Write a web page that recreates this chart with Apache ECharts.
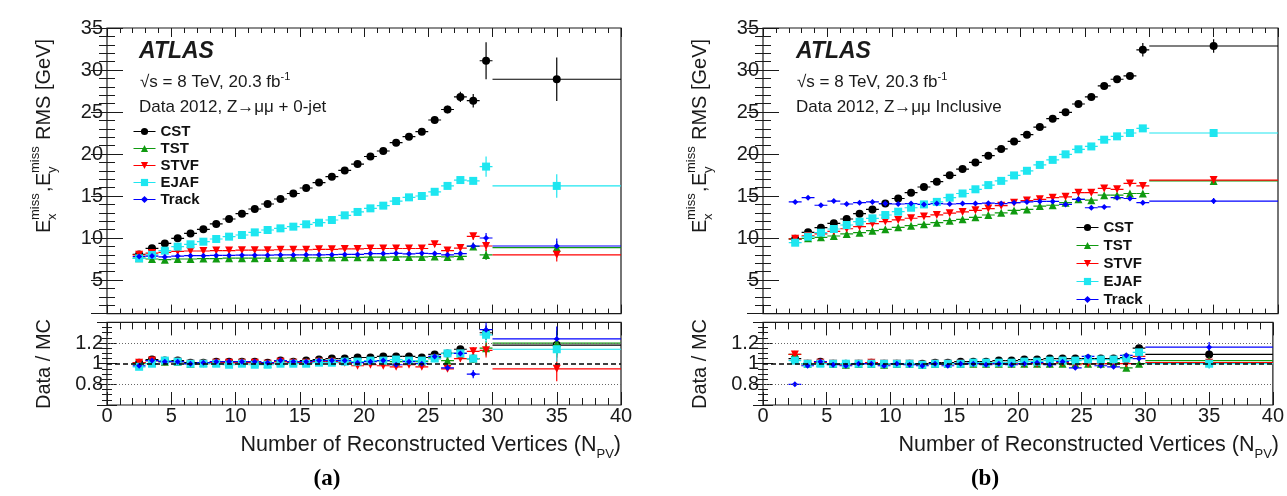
<!DOCTYPE html>
<html>
<head>
<meta charset="utf-8">
<title>MET RMS vs NPV</title>
<script src="https://cdn.jsdelivr.net/npm/echarts@6.0.0/dist/echarts.min.js"></script>
<style>
  html, body { margin: 0; padding: 0; background: #fff; }
  #chart { width: 1287px; height: 496px; }
</style>
</head>
<body>
<div id="chart"></div>
<script>
// N_PV bins, the last one is the wide 30-40 bin
const binCenters = [2.5, 3.5, 4.5, 5.5, 6.5, 7.5, 8.5, 9.5, 10.5, 11.5, 12.5, 13.5, 14.5, 15.5, 16.5, 17.5, 18.5, 19.5, 20.5, 21.5, 22.5, 23.5, 24.5, 25.5, 26.5, 27.5, 28.5, 29.5, 35];
const binHalfWidths = [0.5, 0.5, 0.5, 0.5, 0.5, 0.5, 0.5, 0.5, 0.5, 0.5, 0.5, 0.5, 0.5, 0.5, 0.5, 0.5, 0.5, 0.5, 0.5, 0.5, 0.5, 0.5, 0.5, 0.5, 0.5, 0.5, 0.5, 0.5, 5];
const seriesNames = ['CST', 'TST', 'STVF', 'EJAF', 'Track'];

// (a) Z->mumu + 0-jet, RMS [GeV]
const cstA   = [8.05, 8.77, 9.36, 9.96, 10.55, 11.03, 11.67, 12.26, 12.9, 13.45, 14.05, 14.64, 15.3, 15.95, 16.6, 17.3, 18.05, 18.8, 19.7, 20.36, 21.35, 22.06, 22.66, 24.05, 25.3, 26.8, 26.35, 31.1, 28.9];
const tstA   = [7.6, 7.5, 7.42, 7.5, 7.5, 7.55, 7.55, 7.6, 7.6, 7.6, 7.62, 7.62, 7.65, 7.65, 7.65, 7.68, 7.7, 7.7, 7.72, 7.72, 7.75, 7.75, 7.75, 7.8, 7.75, 7.82, 9.0, 7.98, 8.85];
const stvfA  = [8.0, 8.2, 8.3, 8.4, 8.45, 8.45, 8.5, 8.5, 8.55, 8.55, 8.55, 8.6, 8.6, 8.6, 8.65, 8.65, 8.7, 8.7, 8.75, 8.75, 8.75, 8.75, 8.75, 9.25, 8.5, 8.8, 10.2, 9.05, 8.0];
const ejafA  = [7.58, 7.98, 8.49, 8.97, 9.25, 9.56, 9.88, 10.16, 10.36, 10.67, 10.95, 11.15, 11.35, 11.63, 11.82, 12.14, 12.7, 13.1, 13.53, 13.85, 14.4, 14.84, 15.0, 15.5, 16.2, 16.9, 16.8, 18.5, 16.2];
const trackA = [7.8, 7.85, 7.75, 7.85, 7.9, 7.9, 7.92, 7.92, 7.95, 7.95, 7.95, 7.98, 7.98, 8.0, 8.0, 8.02, 8.05, 8.05, 8.15, 8.15, 8.17, 8.12, 8.17, 8.15, 8.0, 8.15, 9.05, 10.0, 9.05];
const cstErrA   = [0.1, 0.1, 0.1, 0.1, 0.1, 0.1, 0.1, 0.1, 0.1, 0.12, 0.12, 0.12, 0.14, 0.14, 0.15, 0.16, 0.18, 0.2, 0.22, 0.25, 0.28, 0.3, 0.35, 0.4, 0.45, 0.6, 0.8, 2.2, 2.6];
const ejafErrA  = [0.1, 0.1, 0.1, 0.1, 0.1, 0.1, 0.1, 0.1, 0.1, 0.1, 0.1, 0.1, 0.1, 0.12, 0.12, 0.12, 0.14, 0.15, 0.16, 0.18, 0.2, 0.22, 0.25, 0.28, 0.3, 0.35, 0.4, 1.2, 1.4];
const lowErrA   = [0.2, 0.2, 0.2, 0.2, 0.2, 0.2, 0.2, 0.2, 0.2, 0.2, 0.2, 0.2, 0.2, 0.2, 0.2, 0.2, 0.2, 0.2, 0.2, 0.2, 0.22, 0.22, 0.22, 0.25, 0.25, 0.3, 0.4, 0.6, 0.8];
const trackErrA = [0.2, 0.2, 0.2, 0.2, 0.2, 0.2, 0.2, 0.2, 0.2, 0.2, 0.2, 0.2, 0.2, 0.2, 0.2, 0.2, 0.2, 0.2, 0.2, 0.2, 0.22, 0.22, 0.22, 0.25, 0.25, 0.3, 0.4, 0.6, 0.9];

// (b) Z->mumu inclusive, RMS [GeV]
const cstB   = [9.9, 10.67, 11.23, 11.75, 12.26, 12.9, 13.4, 14.1, 14.7, 15.4, 16.07, 16.7, 17.46, 18.2, 19.0, 19.8, 20.6, 21.5, 22.3, 23.2, 24.2, 24.96, 25.95, 26.8, 28.1, 28.9, 29.3, 32.4, 32.86];
const tstB   = [9.88, 9.96, 10.08, 10.24, 10.48, 10.63, 10.87, 11.03, 11.27, 11.47, 11.63, 11.82, 12.06, 12.22, 12.46, 12.74, 13.0, 13.28, 13.4, 13.8, 13.9, 14.2, 14.6, 14.5, 15.1, 15.1, 15.3, 15.3, 16.8];
const stvfB  = [9.9, 10.25, 10.5, 10.8, 11.1, 11.35, 11.7, 11.95, 12.15, 12.35, 12.55, 12.75, 12.95, 13.1, 13.3, 13.5, 13.85, 14.2, 14.45, 14.6, 14.8, 14.9, 15.4, 15.4, 15.9, 15.8, 16.5, 16.2, 16.9];
const ejafB  = [9.44, 10.16, 10.63, 11.07, 11.55, 11.94, 12.34, 12.74, 13.13, 13.6, 14.0, 14.3, 14.8, 15.3, 15.8, 16.3, 16.8, 17.45, 18.0, 18.7, 19.3, 19.96, 20.56, 20.9, 21.7, 22.1, 22.5, 23.05, 22.5];
const trackB = [14.3, 14.8, 13.9, 14.4, 14.05, 14.2, 14.3, 14.1, 14.05, 14.1, 14.0, 14.1, 14.05, 14.1, 14.1, 14.15, 14.1, 14.2, 14.3, 14.35, 14.35, 14.0, 14.6, 13.6, 13.7, 14.8, 14.7, 14.2, 14.4];
const cstErrB = [0.1, 0.1, 0.1, 0.1, 0.1, 0.1, 0.1, 0.1, 0.1, 0.1, 0.1, 0.1, 0.1, 0.1, 0.1, 0.1, 0.1, 0.12, 0.12, 0.12, 0.14, 0.14, 0.15, 0.16, 0.18, 0.2, 0.25, 0.8, 0.8];
const lowErrB = [0.1, 0.1, 0.1, 0.1, 0.1, 0.1, 0.1, 0.1, 0.1, 0.1, 0.1, 0.1, 0.1, 0.1, 0.1, 0.1, 0.1, 0.1, 0.1, 0.12, 0.12, 0.12, 0.14, 0.14, 0.15, 0.16, 0.18, 0.25, 0.35];

// Data / MC ratios
const cstRA   = [1.01, 1.04, 1.03, 1.03, 1.01, 1.01, 1.02, 1.02, 1.02, 1.02, 1.01, 1.03, 1.02, 1.03, 1.04, 1.05, 1.05, 1.06, 1.06, 1.07, 1.07, 1.07, 1.06, 1.09, 1.10, 1.14, 1.05, 1.30, 1.18];
const tstRA   = [1.0, 1.03, 1.02, 1.02, 1.0, 1.01, 1.01, 1.01, 1.02, 1.01, 1.0, 1.02, 1.02, 1.02, 1.03, 1.03, 1.03, 1.02, 1.03, 1.03, 1.02, 1.03, 1.02, 1.06, 1.03, 1.1, 1.05, 1.15, 1.2];
const stvfRA  = [1.01, 1.03, 1.02, 1.02, 1.0, 1.0, 1.01, 1.01, 1.01, 1.01, 1.0, 1.02, 1.01, 1.01, 1.02, 1.02, 1.01, 0.98, 0.99, 0.98, 0.97, 0.99, 0.97, 1.05, 0.95, 1.05, 1.12, 1.13, 0.95];
const ejafRA  = [0.97, 1.0, 1.03, 1.02, 1.0, 1.0, 1.0, 0.99, 1.0, 0.99, 0.99, 1.0, 1.0, 1.0, 1.01, 1.01, 1.02, 1.02, 1.03, 1.03, 1.04, 1.03, 1.03, 1.05, 1.1, 1.1, 1.05, 1.28, 1.14];
const trackRA = [0.98, 1.03, 1.02, 1.02, 1.0, 1.01, 1.02, 1.02, 1.02, 1.02, 1.01, 1.03, 1.02, 1.02, 1.03, 1.03, 1.03, 1.01, 1.02, 1.03, 0.99, 1.02, 1.0, 1.07, 0.96, 1.1, 0.9, 1.33, 1.24];
const cstRB   = [1.05, 1.0, 1.02, 1.0, 1.0, 1.0, 1.01, 1.0, 1.0, 1.0, 1.0, 1.01, 1.01, 1.02, 1.02, 1.02, 1.03, 1.03, 1.04, 1.04, 1.05, 1.05, 1.05, 1.05, 1.05, 1.05, 1.06, 1.15, 1.09];
const tstRB   = [1.09, 1.0, 1.01, 1.0, 0.99, 1.0, 1.0, 0.99, 1.0, 1.0, 0.99, 1.0, 1.0, 1.0, 1.0, 1.0, 1.0, 1.0, 1.0, 1.0, 1.0, 1.0, 1.0, 1.0, 1.0, 1.01, 0.96, 1.0, 1.03];
const stvfRB  = [1.09, 1.0, 1.01, 1.0, 0.99, 1.0, 1.01, 1.0, 1.0, 1.0, 0.99, 1.0, 1.0, 1.0, 1.0, 1.0, 1.0, 1.0, 1.0, 1.0, 1.0, 1.01, 0.99, 1.0, 1.0, 1.0, 1.0, 1.07, 1.01];
const ejafRB  = [1.03, 1.0, 1.0, 1.0, 1.0, 1.0, 1.0, 1.0, 1.0, 1.0, 0.99, 1.0, 1.0, 1.0, 1.01, 1.01, 1.01, 1.01, 1.02, 1.02, 1.03, 1.03, 1.03, 1.04, 1.04, 1.04, 1.05, 1.11, 1.0];
const trackRB = [0.8, 0.98, 1.02, 0.99, 0.98, 1.0, 1.0, 0.98, 1.0, 0.99, 0.98, 1.0, 0.98, 1.0, 1.0, 0.99, 1.0, 0.99, 1.0, 1.01, 0.99, 1.02, 0.96, 1.07, 0.98, 0.97, 1.08, 1.05, 1.16];
const ratioErrA = [0.01, 0.01, 0.01, 0.01, 0.01, 0.01, 0.01, 0.01, 0.01, 0.01, 0.01, 0.01, 0.01, 0.01, 0.01, 0.01, 0.015, 0.015, 0.015, 0.015, 0.02, 0.02, 0.02, 0.02, 0.025, 0.03, 0.04, 0.07, 0.12];
const ratioErrB = [0.01, 0.01, 0.01, 0.01, 0.01, 0.01, 0.01, 0.01, 0.01, 0.01, 0.01, 0.01, 0.01, 0.01, 0.01, 0.01, 0.01, 0.01, 0.01, 0.01, 0.01, 0.01, 0.015, 0.015, 0.015, 0.02, 0.025, 0.03, 0.05];
const ratioRefLines = [0.8, 1.0, 1.2];

const FONT = '"Liberation Sans", Arial, Helvetica, sans-serif';
const seriesStyle = {
  CST:   { color: '#000000', symbol: 'circle',   size: 8, rotate: 0 },
  TST:   { color: '#109a10', symbol: 'triangle', size: 8, rotate: 0 },
  STVF:  { color: '#ff0000', symbol: 'triangle', size: 8, rotate: 180 },
  EJAF:  { color: '#1ee6f0', symbol: 'rect',     size: 8, rotate: 0 },
  Track: { color: '#0000ff', symbol: 'diamond',  size: 6, rotate: 0 }
};

// 0 = (a) main, 1 = (a) ratio, 2 = (b) main, 3 = (b) ratio
const grids = [
  { left: 107, top: 28, width: 514, height: 285.6 },
  { left: 107, top: 322.4, width: 514, height: 82.6 },
  { left: 763, top: 28, width: 515, height: 285.6 },
  { left: 763, top: 322.4, width: 515, height: 82.6 }
];
const panels = [
  { grid: 0, values: [cstA, tstA, stvfA, ejafA, trackA], errors: [cstErrA, lowErrA, lowErrA, ejafErrA, trackErrA] },
  { grid: 1, values: [cstRA, tstRA, stvfRA, ejafRA, trackRA], errors: [ratioErrA, ratioErrA, ratioErrA, ratioErrA, ratioErrA] },
  { grid: 2, values: [cstB, tstB, stvfB, ejafB, trackB], errors: [cstErrB, lowErrB, lowErrB, lowErrB, lowErrB] },
  { grid: 3, values: [cstRB, tstRB, stvfRB, ejafRB, trackRB], errors: [ratioErrB, ratioErrB, ratioErrB, ratioErrB, ratioErrB] }
];

function tick(len) {
  return { show: true, inside: true, length: len, lineStyle: { color: '#1a1a1a', width: 1 } };
}

function makeXAxes(gridIndex, isRatio) {
  const base = {
    type: 'value', gridIndex: gridIndex, min: 0, max: 40, interval: 5,
    axisLine: { show: false }, splitLine: { show: false },
    axisTick: tick(isRatio ? 13 : 9),
    minorTick: { show: true, splitNumber: 5, length: isRatio ? 7 : 5, lineStyle: { color: '#1a1a1a' } }
  };
  return [
    Object.assign({}, base, { position: 'bottom',
      axisLabel: { show: isRatio, color: '#1a1a1a', fontSize: 20, fontFamily: FONT, margin: 1 } }),
    Object.assign({}, base, { position: 'top', axisLabel: { show: false } })
  ];
}

function makeYAxes(gridIndex, isRatio) {
  const base = {
    type: 'value', gridIndex: gridIndex,
    axisLine: { show: false }, splitLine: { show: false },
    axisTick: tick(isRatio ? 10 : 16),
    minorTick: { show: true, splitNumber: isRatio ? 4 : 5, length: isRatio ? 5 : 8, lineStyle: { color: '#1a1a1a' } }
  };
  if (isRatio) {
    Object.assign(base, { min: 0.6, max: 1.4, interval: 0.2 });
  } else {
    Object.assign(base, { min: 1, max: 35, splitNumber: 7 });
  }
  return [
    Object.assign({}, base, { position: 'left',
      axisLabel: { show: true, color: '#1a1a1a', fontSize: 20, fontFamily: FONT, margin: 4,
        showMinLabel: false, showMaxLabel: !isRatio } }),
    Object.assign({}, base, { position: 'right', axisLabel: { show: false } })
  ];
}

function renderErrorBar(params, api) {
  const x = api.value(0), y = api.value(1), dx = api.value(2), dy = api.value(3);
  const h0 = api.coord([x - dx, y]), h1 = api.coord([x + dx, y]);
  const v0 = api.coord([x, y - dy]), v1 = api.coord([x, y + dy]);
  const style = { stroke: api.visual('color'), lineWidth: 1.2 };
  return {
    type: 'group',
    children: [
      { type: 'line', shape: { x1: h0[0], y1: h0[1], x2: h1[0], y2: h1[1] }, style: style },
      { type: 'line', shape: { x1: v0[0], y1: v0[1], x2: v1[0], y2: v1[1] }, style: style }
    ]
  };
}

const xAxis = [], yAxis = [];
grids.forEach(function (g, i) {
  const isRatio = i % 2 === 1;
  makeXAxes(i, isRatio).forEach(a => xAxis.push(a));
  makeYAxes(i, isRatio).forEach(a => yAxis.push(a));
});

const pointSeries = [], errorSeries = [], refSeries = [];
panels.forEach(function (p) {
  seriesNames.forEach(function (name, k) {
    const st = seriesStyle[name];
    const vals = p.values[k], errs = p.errors[k];
    pointSeries.push({
      type: 'line', name: name, xAxisIndex: p.grid * 2, yAxisIndex: p.grid * 2,
      data: binCenters.map((x, i) => [x, vals[i]]),
      symbol: st.symbol, symbolSize: st.size, symbolRotate: st.rotate, showAllSymbol: true,
      itemStyle: { color: st.color }, lineStyle: { color: st.color, opacity: 0 },
      silent: true, z: 3
    });
    errorSeries.push({
      type: 'custom', name: name, xAxisIndex: p.grid * 2, yAxisIndex: p.grid * 2,
      data: binCenters.map((x, i) => [x, vals[i], binHalfWidths[i], errs[i]]),
      encode: { x: 0, y: 1 }, itemStyle: { color: st.color },
      renderItem: renderErrorBar, clip: true, silent: true, z: 2
    });
  });
  if (p.grid % 2 === 1) {
    refSeries.push({
      type: 'line', name: 'ref', xAxisIndex: p.grid * 2, yAxisIndex: p.grid * 2, data: [],
      silent: true, z: 1,
      markLine: {
        silent: true, symbol: 'none', label: { show: false },
        data: ratioRefLines.map(v => ({
          yAxis: v,
          lineStyle: v === 1 ? { color: '#000', type: [5, 3], width: 1.5 } : { color: '#666', type: [1, 2], width: 1 }
        }))
      }
    });
  }
});

const legendText = { fontSize: 15, fontWeight: 'bold', color: '#111', fontFamily: FONT, lineHeight: 15 };

function text(x, y, str, font, extra) {
  return { type: 'text', x: x, y: y, silent: true,
    style: Object.assign({ text: str, font: font, fill: '#1a1a1a', textAlign: 'left', textVerticalAlign: 'middle' }, extra || {}) };
}

// E_x^miss, E_y^miss RMS [GeV], reading bottom to top
function yTitle(x, y) {
  const big = '20px ' + FONT, small = '13px ' + FONT;
  return {
    type: 'group', x: x, y: y, rotation: Math.PI / 2, silent: true,
    children: [
      text(0, 0, 'E', big), text(13, -9, 'miss', small), text(13, 8, 'x', small),
      text(41, 0, ',', big), text(47, 0, 'E', big), text(60, -9, 'miss', small), text(60, 8, 'y', small),
      text(93, 0, 'RMS [GeV]', big)
    ]
  };
}

function infoTexts(dx, channel) {
  return [
    text(139 + dx, 52, 'ATLAS', 'italic bold 23px ' + FONT),
    text(140 + dx, 82, '{m|\u221As = 8 TeV, 20.3 fb}{s|-1}', '17px ' + FONT, {
      rich: { m: { fontSize: 17, fontFamily: FONT, lineHeight: 22, fill: '#1a1a1a' },
              s: { fontSize: 11, fontFamily: FONT, lineHeight: 12, verticalAlign: 'top', fill: '#1a1a1a' } } }),
    text(139 + dx, 107, channel, '17px ' + FONT)
  ];
}

function xTitle(right) {
  return text(right, 445, '{m|Number of Reconstructed Vertices (N}{s|PV}{m|)}', '21.5px ' + FONT, {
    textAlign: 'right',
    rich: { m: { fontSize: 21.5, fontFamily: FONT, lineHeight: 32, fill: '#1a1a1a' },
            s: { fontSize: 13, fontFamily: FONT, lineHeight: 13, verticalAlign: 'bottom', fill: '#1a1a1a' } }
  });
}

function rotatedText(x, y, str, font) {
  const t = text(x, y, str, font, { textAlign: 'center' });
  t.rotation = Math.PI / 2;
  return t;
}

const graphic = [].concat(
  infoTexts(0, 'Data 2012, Z\u2192\u03BC\u03BC + 0-jet'),
  infoTexts(657, 'Data 2012, Z\u2192\u03BC\u03BC Inclusive'),
  [
    yTitle(44, 233), yTitle(700, 233),
    rotatedText(44, 364, 'Data / MC', '20px ' + FONT),
    rotatedText(700, 364, 'Data / MC', '20px ' + FONT),
    xTitle(621), xTitle(1279),
    text(327, 479, '(a)', 'bold 23px "Liberation Serif", "Times New Roman", serif', { textAlign: 'center', fill: '#000' }),
    text(985, 479, '(b)', 'bold 23px "Liberation Serif", "Times New Roman", serif', { textAlign: 'center', fill: '#000' })
  ]
);

const chart = echarts.init(document.getElementById('chart'), null, { renderer: 'canvas' });
chart.setOption({
  animation: false,
  backgroundColor: '#ffffff',
  grid: grids.map(g => Object.assign({ show: true, borderColor: '#1a1a1a', borderWidth: 1.2, backgroundColor: 'transparent' }, g)),
  xAxis: xAxis,
  yAxis: yAxis,
  legend: [
    { data: seriesNames, left: 128, top: 119, orient: 'vertical', itemWidth: 22, itemHeight: 9, itemGap: 2,
      textStyle: legendText, lineStyle: { opacity: 1, width: 1 }, selectedMode: false },
    { data: seriesNames, left: 1071, top: 215, orient: 'vertical', itemWidth: 22, itemHeight: 9, itemGap: 3,
      textStyle: legendText, lineStyle: { opacity: 1, width: 1 }, selectedMode: false }
  ],
  graphic: graphic,
  // point series first so the legend takes its icons from them
  series: [].concat(pointSeries, errorSeries, refSeries)
});
</script>
</body>
</html>
